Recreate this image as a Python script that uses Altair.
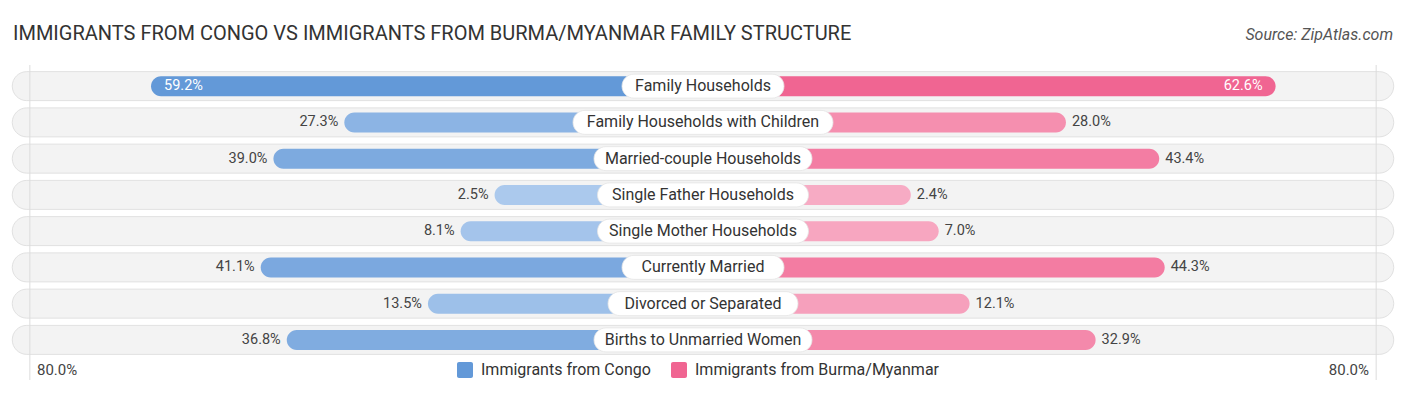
import altair as alt
import pandas as pd

# ---------------- data ----------------
categories = [
    "Family Households",
    "Family Households with Children",
    "Married-couple Households",
    "Single Father Households",
    "Single Mother Households",
    "Currently Married",
    "Divorced or Separated",
    "Births to Unmarried Women",
]
congo = [59.2, 27.3, 39.0, 2.5, 8.1, 41.1, 13.5, 36.8]
burma = [62.6, 28.0, 43.4, 2.4, 7.0, 44.3, 12.1, 32.9]
series = ["Immigrants from Congo", "Immigrants from Burma/Myanmar"]
axis_max = [80.0]
title_text = ["IMMIGRANTS FROM CONGO VS IMMIGRANTS FROM BURMA/MYANMAR FAMILY STRUCTURE"]
source_text = ["Source: ZipAtlas.com"]

# ---------------- style ----------------
BLUE_DARK, BLUE_LIGHT = "#6399d8", "#abc9ed"
PINK_DARK, PINK_LIGHT = "#f06592", "#f7abc4"
FONT = "Roboto"
OFFSET = 31.9          # space (in value units) reserved for the centre label
PXU = 6.059            # pixels per value unit
W, H = 1390, 290
DOM = W / 2 / PXU
PILL = 114.0
RULE_X = 111.1

xscale = alt.Scale(domain=[-DOM, DOM], nice=False, zero=False)
y_enc = alt.Y("category:N", sort=categories, axis=None,
              scale=alt.Scale(paddingInner=0, paddingOuter=0))

df = pd.DataFrame({"category": categories, "congo": congo, "burma": burma})

base = alt.Chart(df).transform_calculate(
    left_end=f"-({OFFSET} + datum.congo)",
    right_end=f"{OFFSET} + datum.burma",
    zero="0",
    pill_l=f"-{PILL}",
    pill_r=f"{PILL}",
    hw=f"(length(datum.category) * 7.0 + 43) / 2 / {PXU}",
    congo_lbl="format(datum.congo, '.1f') + '%'",
    burma_lbl="format(datum.burma, '.1f') + '%'",
).transform_calculate(neg_hw="-datum.hw")

pills = base.mark_bar(size=29, cornerRadius=14.5, color="#f3f3f3",
                      stroke="#e1e1e1", strokeWidth=1).encode(
    x=alt.X("pill_l:Q", scale=xscale, axis=None), x2="pill_r:Q", y=y_enc)

rules = alt.Chart(pd.DataFrame({"x": [-RULE_X, RULE_X]})).mark_rule(
    color="#dcdcdc", strokeWidth=1).encode(
    x=alt.X("x:Q", scale=xscale, axis=None),
    y=alt.value(-3), y2=alt.value(H + 22))

left_bars = base.mark_bar(size=20, cornerRadius=10).encode(
    x=alt.X("left_end:Q", scale=xscale, axis=None), x2="zero:Q", y=y_enc,
    color=alt.Color("congo:Q", scale=alt.Scale(range=[BLUE_LIGHT, BLUE_DARK], zero=False),
                    legend=None))

right_bars = base.mark_bar(size=20, cornerRadius=10).encode(
    x=alt.X("zero:Q", scale=xscale, axis=None), x2="right_end:Q", y=y_enc,
    color=alt.Color("burma:Q", scale=alt.Scale(range=[PINK_LIGHT, PINK_DARK], zero=False),
                    legend=None))

boxes = base.mark_bar(size=24, cornerRadius=12, color="white",
                      stroke="#e4e4e4", strokeWidth=0.8).encode(
    x=alt.X("neg_hw:Q", scale=xscale, axis=None), x2="hw:Q", y=y_enc)

center_text = base.mark_text(font=FONT, fontSize=16, color="#333333").encode(
    x=alt.X("zero:Q", scale=xscale, axis=None), y=y_enc, text="category:N")

VFS = 14.5
left_out = base.transform_filter("datum.congo <= 50").mark_text(
    font=FONT, fontSize=VFS, color="#444444", align="right", dx=-6).encode(
    x=alt.X("left_end:Q", scale=xscale, axis=None), y=y_enc, text="congo_lbl:N")
left_in = base.transform_filter("datum.congo > 50").mark_text(
    font=FONT, fontSize=VFS, color="white", align="left", dx=13).encode(
    x=alt.X("left_end:Q", scale=xscale, axis=None), y=y_enc, text="congo_lbl:N")
right_out = base.transform_filter("datum.burma <= 50").mark_text(
    font=FONT, fontSize=VFS, color="#444444", align="left", dx=6).encode(
    x=alt.X("right_end:Q", scale=xscale, axis=None), y=y_enc, text="burma_lbl:N")
right_in = base.transform_filter("datum.burma > 50").mark_text(
    font=FONT, fontSize=VFS, color="white", align="right", dx=-13).encode(
    x=alt.X("right_end:Q", scale=xscale, axis=None), y=y_enc, text="burma_lbl:N")

ax_df = pd.DataFrame({"v": axis_max})
ax_base = alt.Chart(ax_df).transform_calculate(
    lbl="format(datum.v, '.1f') + '%'",
    xl=f"-({OFFSET} + datum.v)",
    xr=f"{OFFSET} + datum.v",
)
ax_left = ax_base.mark_text(font=FONT, fontSize=15, color="#444444",
                            align="left", dx=12).encode(
    x=alt.X("xl:Q", scale=xscale, axis=None), y=alt.value(H + 12), text="lbl:N")
ax_right = ax_base.mark_text(font=FONT, fontSize=15, color="#444444",
                             align="right", dx=-12).encode(
    x=alt.X("xr:Q", scale=xscale, axis=None), y=alt.value(H + 12), text="lbl:N")

# legend (manual)
leg_sq1 = alt.Chart(pd.DataFrame({"s": [series[0]]})).mark_rect(
    color=BLUE_DARK, cornerRadius=2).encode(
    x=alt.value(449), x2=alt.value(465), y=alt.value(H + 4), y2=alt.value(H + 20))
leg_tx1 = alt.Chart(pd.DataFrame({"s": [series[0]]})).mark_text(
    font=FONT, fontSize=16, color="#333333", align="left").encode(
    x=alt.value(473), y=alt.value(H + 12), text="s:N")
leg_sq2 = alt.Chart(pd.DataFrame({"s": [series[1]]})).mark_rect(
    color=PINK_DARK, cornerRadius=2).encode(
    x=alt.value(663), x2=alt.value(679), y=alt.value(H + 4), y2=alt.value(H + 20))
leg_tx2 = alt.Chart(pd.DataFrame({"s": [series[1]]})).mark_text(
    font=FONT, fontSize=16, color="#333333", align="left").encode(
    x=alt.value(687), y=alt.value(H + 12), text="s:N")

title = alt.Chart(pd.DataFrame({"t": title_text})).mark_text(
    font=FONT, fontSize=20, color="#333333", align="left", baseline="alphabetic").encode(
    x=alt.value(5), y=alt.value(-28), text="t:N")
source = alt.Chart(pd.DataFrame({"t": source_text})).mark_text(
    font=FONT, fontSize=16, fontStyle="italic", color="#555555", align="right",
    baseline="alphabetic").encode(
    x=alt.value(W - 5), y=alt.value(-28), text="t:N")

chart = alt.layer(
    pills, rules, left_bars, right_bars, boxes, center_text,
    left_out, left_in, right_out, right_in, ax_left, ax_right,
    leg_sq1, leg_tx1, leg_sq2, leg_tx2, title, source,
).resolve_scale(color="independent").properties(
    width=W, height=H,
    padding={"left": 0, "top": 60, "right": 0, "bottom": 35},
    autosize=alt.AutoSizeParams(type="none"),
).configure_view(stroke=None)

chart.save("out.html", embed_options={"renderer": "svg", "actions": False})
